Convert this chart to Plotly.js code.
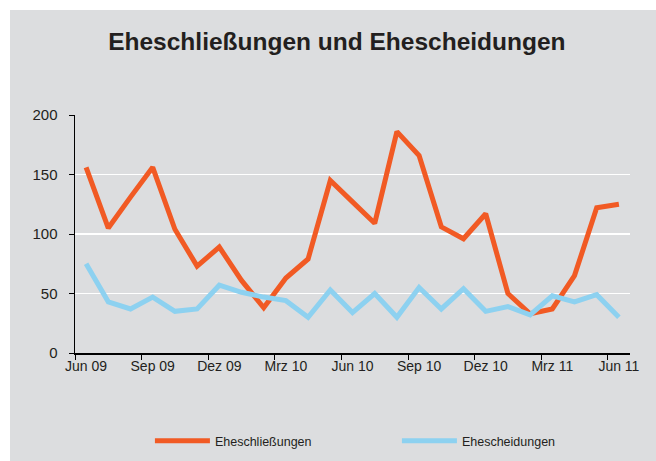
<!DOCTYPE html>
<html>
<head>
<meta charset="utf-8">
<script src="https://cdn.plot.ly/plotly-3.0.1.min.js"></script>
<style>
  html, body { margin: 0; padding: 0; background: #ffffff; }
  #chart { position: absolute; left: 10px; top: 10px; width: 646px; height: 451px; }
</style>
</head>
<body>
<div id="chart"></div>
<script>
const months = ["Jun 09","Jul 09","Aug 09","Sep 09","Okt 09","Nov 09","Dez 09",
  "Jan 10","Feb 10","Mrz 10","Apr 10","Mai 10","Jun 10","Jul 10","Aug 10","Sep 10",
  "Okt 10","Nov 10","Dez 10","Jan 11","Feb 11","Mrz 11","Apr 11","Mai 11","Jun 11"];
const eheschliessungen = [156, 105, 131, 156, 104, 73, 89, 61, 38, 63, 79, 145, 127, 109,
  186, 166, 106, 96, 117, 50, 33, 37, 65, 122, 125];
const ehescheidungen = [75, 43, 37, 47, 35, 37, 57, 51, 47, 44, 30, 53, 34, 50,
  30, 55, 37, 54, 35, 39, 32, 48, 43, 49, 30];
const yTicks = [0, 50, 100, 150, 200];

const traces = [
  { x: months, y: eheschliessungen, type: 'scatter', mode: 'lines', name: 'Eheschließungen',
    line: { color: '#f15a24', width: 5 } },
  { x: months, y: ehescheidungen, type: 'scatter', mode: 'lines', name: 'Ehescheidungen',
    line: { color: '#8dd1f0', width: 5 } }
];

const layout = {
  width: 646, height: 451,
  paper_bgcolor: '#dcdddf', plot_bgcolor: '#dcdddf',
  margin: { l: 65, r: 26, t: 105, b: 108, autoexpand: false },
  font: { family: 'Liberation Sans, Arial, sans-serif', color: '#231f20', size: 12 },
  title: { text: '<b>Eheschließungen und Ehescheidungen</b>', font: { size: 24.5, color: '#231f20' },
    x: 0.506, xref: 'container', y: 0.93, yref: 'container', yanchor: 'middle' },
  showlegend: true,
  legend: { orientation: 'h', x: 0.135, xanchor: 'left', y: -0.37, yanchor: 'middle',
    font: { size: 12.5, color: '#231f20' }, bgcolor: 'rgba(0,0,0,0)',
    itemwidth: 55, entrywidth: 177, entrywidthmode: 'pixels' },
  xaxis: { type: 'category', range: [-0.5, 24.5], tickson: 'boundaries', dtick: 3, tick0: 0,
    ticks: 'outside', ticklen: 5, tickcolor: '#000', tickwidth: 1, tickangle: 0,
    automargin: false,
    showline: true, linecolor: '#000', linewidth: 1.5, showgrid: false, zeroline: false,
    fixedrange: true, tickfont: { size: 14 } },
  yaxis: { range: [0, 200], tickvals: yTicks, ticks: 'outside', ticklen: 5, tickcolor: '#000',
    automargin: false, ticklabelstandoff: 8,
    showline: true, linecolor: '#000', linewidth: 1.5, showgrid: true, gridcolor: '#ffffff',
    gridwidth: 1.5, zeroline: false, fixedrange: true, tickfont: { size: 15 } }
};

Plotly.newPlot('chart', traces, layout, { displayModeBar: false, staticPlot: true });
</script>
</body>
</html>
